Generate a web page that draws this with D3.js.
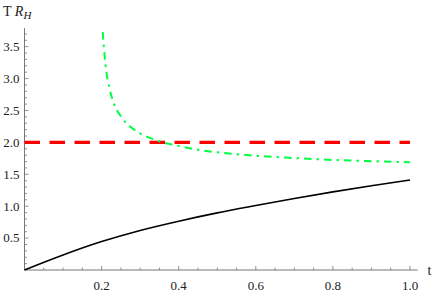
<!DOCTYPE html>
<html><head><meta charset="utf-8">
<script src="https://cdn.jsdelivr.net/npm/d3@7"></script>
<style>body{margin:0;background:#fff}svg{display:block}
text{font-family:"Liberation Serif","Times New Roman","DejaVu Serif",serif;}</style>
</head><body><svg id="c" width="436" height="295"></svg>
<script>
const blackT = [0,0.1,0.2,0.3,0.4,0.5,0.6,0.7,0.8,0.9,1.0];
const blackV = [0,0.235,0.445,0.62,0.765,0.895,1.01,1.12,1.225,1.32,1.41];
const greenT = [0.203,0.21,0.22,0.23,0.24,0.25,0.26,0.28,0.30,0.33,0.36,0.40,0.45,0.50,0.55,0.60,0.70,0.80,0.90,1.0];
const greenV = [3.73,3.22,2.86,2.64,2.50,2.41,2.33,2.22,2.14,2.06,2.00,1.945,1.885,1.845,1.815,1.79,1.755,1.725,1.705,1.69];
const redT = [0,1.0];
const redV = [2,2];
const xTicks = [0.2,0.4,0.6,0.8,1.0];
const yTicks = [0.5,1.0,1.5,2.0,2.5,3.0,3.5];

const svg = d3.select("#c");
const x = d3.scaleLinear().domain([0,1.0]).range([24.5,410]);
const y = d3.scaleLinear().domain([0,3.5]).range([270,46.7]);
const axisCol = "#777";

svg.append("line").attr("x1",x(0)).attr("x2",x(1.02)).attr("y1",y(0)).attr("y2",y(0)).attr("stroke",axisCol).attr("stroke-width",1);
svg.append("line").attr("x1",x(0)).attr("x2",x(0)).attr("y1",y(0)).attr("y2",y(3.79)).attr("stroke",axisCol).attr("stroke-width",1);

d3.range(1,21).map(i=>i*0.05).forEach((v,i)=>{
  const major = (i+1)%4===0;
  svg.append("line").attr("x1",x(v)).attr("x2",x(v)).attr("y1",y(0)).attr("y2",y(0)-(major?4:2.5)).attr("stroke",axisCol).attr("stroke-width",0.8);
});
d3.range(1,38).map(i=>i*0.1).forEach((v,i)=>{
  const major = (i+1)%5===0;
  svg.append("line").attr("y1",y(v)).attr("y2",y(v)).attr("x1",x(0)).attr("x2",x(0)+(major?4:2.5)).attr("stroke",axisCol).attr("stroke-width",0.8);
});
svg.selectAll(".xl").data(xTicks).enter().append("text")
  .attr("x",d=>x(d)).attr("y",290).attr("text-anchor","middle")
  .attr("font-size",13).attr("fill","#222").text(d=>d.toFixed(1));
svg.selectAll(".yl").data(yTicks).enter().append("text")
  .attr("x",19.5).attr("y",d=>y(d)+4.3).attr("text-anchor","end")
  .attr("font-size",13).attr("fill","#222").text(d=>d.toFixed(1));

const tl = svg.append("text").attr("x",3).attr("y",16).attr("font-size",14).attr("fill","#222");
tl.append("tspan").text("T ");
tl.append("tspan").attr("font-style","italic").text("R");
tl.append("tspan").attr("font-style","italic").attr("font-size",11).attr("dy",3).text("H");
svg.append("text").attr("x",427.5).attr("y",275).attr("font-size",14).attr("fill","#222").text("t");

svg.append("path").datum(d3.zip(blackT,blackV)).attr("d",d3.line().x(d=>x(d[0])).y(d=>y(d[1])).curve(d3.curveMonotoneX))
  .attr("fill","none").attr("stroke","#000").attr("stroke-width",1.6);
svg.append("path").datum(d3.zip(redT,redV)).attr("d",d3.line().x(d=>x(d[0])).y(d=>y(d[1])))
  .attr("fill","none").attr("stroke","#ff0000").attr("stroke-width",3.3).attr("stroke-dasharray","15.5,9.5");
svg.append("path").datum(d3.zip(greenT,greenV)).attr("d",d3.line().x(d=>x(d[0])).y(d=>y(d[1])).curve(d3.curveMonotoneX))
  .attr("fill","none").attr("stroke","#00ff44").attr("stroke-width",2).attr("stroke-dasharray","7.5,5,2.5,5");
</script></body></html>
